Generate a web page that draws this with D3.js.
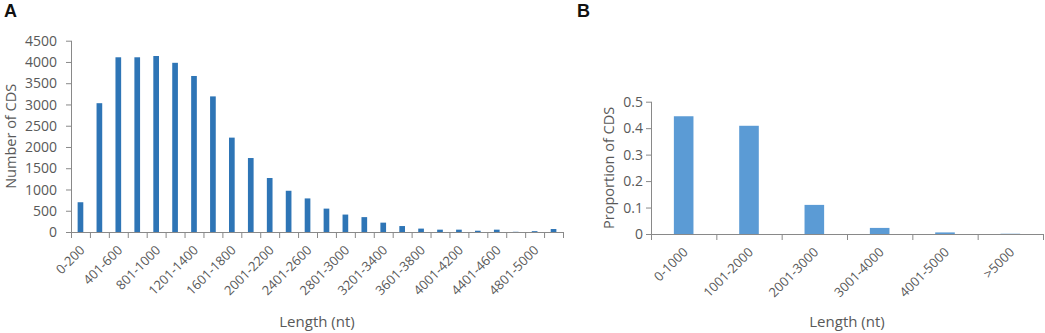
<!DOCTYPE html>
<html>
<head>
<meta charset="utf-8">
<script src="https://cdn.jsdelivr.net/npm/d3@7"></script>
<style>
  body { margin: 0; background: white; }
  text { font-family: "Open Sans", "Noto Sans", sans-serif; fill: #595959; }
</style>
</head>
<body>
<div id="container"></div>
<script>
let w = 1045;
let h = 333;

// DATA - panel A
let lengthBinsA = ["0-200","201-400","401-600","601-800","801-1000","1001-1200","1201-1400","1401-1600",
  "1601-1800","1801-2000","2001-2200","2201-2400","2401-2600","2601-2800","2801-3000","3001-3200",
  "3201-3400","3401-3600","3601-3800","3801-4000","4001-4200","4201-4400","4401-4600","4601-4800",
  "4801-5000",">5000"];
let countsA = [700, 3030, 4110, 4110, 4140, 3980, 3670, 3190, 2220, 1740, 1270, 970, 790, 550, 410, 350,
  220, 140, 80, 55, 55, 30, 55, 5, 20, 70];
let yTicksA = [0, 500, 1000, 1500, 2000, 2500, 3000, 3500, 4000, 4500];

// DATA - panel B
let lengthBinsB = ["0-1000","1001-2000","2001-3000","3001-4000","4001-5000",">5000"];
let proportionB = [0.445, 0.409, 0.11, 0.023, 0.006, 0.001];
let yTicksB = [0, 0.1, 0.2, 0.3, 0.4, 0.5];

let viz = d3.select("#container").append("svg")
    .attr("width", w)
    .attr("height", h)
    .style("display", "block");

let axisColor = "#898989";

function drawPanel(opts){
  let g = viz.append("g");
  let x = d3.scaleBand().domain(opts.cats).range([opts.x0, opts.x1]).paddingInner(0.7).paddingOuter(0.35);
  let y = d3.scaleLinear().domain([0, opts.yMax]).range([opts.y0, opts.y1]);

  // bars
  g.selectAll(".bar").data(opts.values).enter()
    .append("rect")
      .attr("class", "bar")
      .attr("x", (d,i)=> x(opts.cats[i]))
      .attr("width", x.bandwidth())
      .attr("y", d => y(d))
      .attr("height", d => y(0) - y(d))
      .attr("fill", opts.color);

  // y axis
  g.append("line")
    .attr("x1", opts.x0 + 0.5).attr("x2", opts.x0 + 0.5)
    .attr("y1", y(0)).attr("y2", y(opts.yMax))
    .attr("stroke", axisColor);
  g.selectAll(".ytick").data(opts.yTicks).enter()
    .append("line")
      .attr("x1", opts.x0 - 5).attr("x2", opts.x0)
      .attr("y1", d => y(d) + 0.5).attr("y2", d => y(d) + 0.5)
      .attr("stroke", axisColor);
  g.selectAll(".ylab").data(opts.yTicks).enter()
    .append("text")
      .attr("x", opts.x0 - opts.yLabGap)
      .attr("y", d => y(d))
      .attr("dy", "0.36em")
      .attr("text-anchor", "end")
      .style("font-size", "14px")
      .text(d => d);

  // x axis with ticks at category boundaries
  g.append("line")
    .attr("x1", opts.x0).attr("x2", opts.x1)
    .attr("y1", y(0) + 0.5).attr("y2", y(0) + 0.5)
    .attr("stroke", axisColor);
  let bounds = d3.range(opts.cats.length + 1).map(i => opts.x0 + i * x.step());
  g.selectAll(".xtick").data(bounds).enter()
    .append("line")
      .attr("x1", d => d + 0.5).attr("x2", d => d + 0.5)
      .attr("y1", y(0)).attr("y2", y(0) + 6)
      .attr("stroke", axisColor);
  g.selectAll(".xlab").data(opts.cats.filter((c,i)=> i % opts.labelEvery == 0)).enter()
    .append("text")
      .attr("text-anchor", "end")
      .attr("transform", c => "translate(" + (x(c) + x.bandwidth()/2 + 5) + "," + (y(0) + 19) + ") rotate(-45)")
      .style("font-size", "13px")
      .text(c => c);

  // axis titles
  g.append("text")
    .attr("x", (opts.x0 + opts.x1)/2)
    .attr("y", 327)
    .attr("text-anchor", "middle")
    .style("font-size", "15px")
    .text("Length (nt)");
  g.append("text")
    .attr("transform", "translate(" + opts.yTitleX + "," + (opts.y0 + opts.y1)/2 + ") rotate(-90)")
    .attr("text-anchor", "middle")
    .style("font-size", "14.5px")
    .text(opts.yTitle);

  // panel letter
  viz.append("text")
    .attr("x", opts.letterX)
    .attr("y", 17)
    .style("font-family", "'Liberation Sans', Arial, sans-serif")
    .style("font-weight", "bold")
    .style("font-size", "18px")
    .style("fill", "#111")
    .text(opts.letter);
}

drawPanel({
  cats: lengthBinsA, values: countsA, yTicks: yTicksA, yMax: 4500,
  x0: 71, x1: 563, y0: 232, y1: 40.7, yLabGap: 14,
  color: "#2E75B6", labelEvery: 2,
  yTitle: "Number of CDS", yTitleX: 16, letter: "A", letterX: 4
});

drawPanel({
  cats: lengthBinsB, values: proportionB, yTicks: yTicksB, yMax: 0.5,
  x0: 651, x1: 1043, y0: 234, y1: 101.7, yLabGap: 8,
  color: "#5B9BD5", labelEvery: 1,
  yTitle: "Proportion of CDS", yTitleX: 614, letter: "B", letterX: 577
});
</script>
</body>
</html>
